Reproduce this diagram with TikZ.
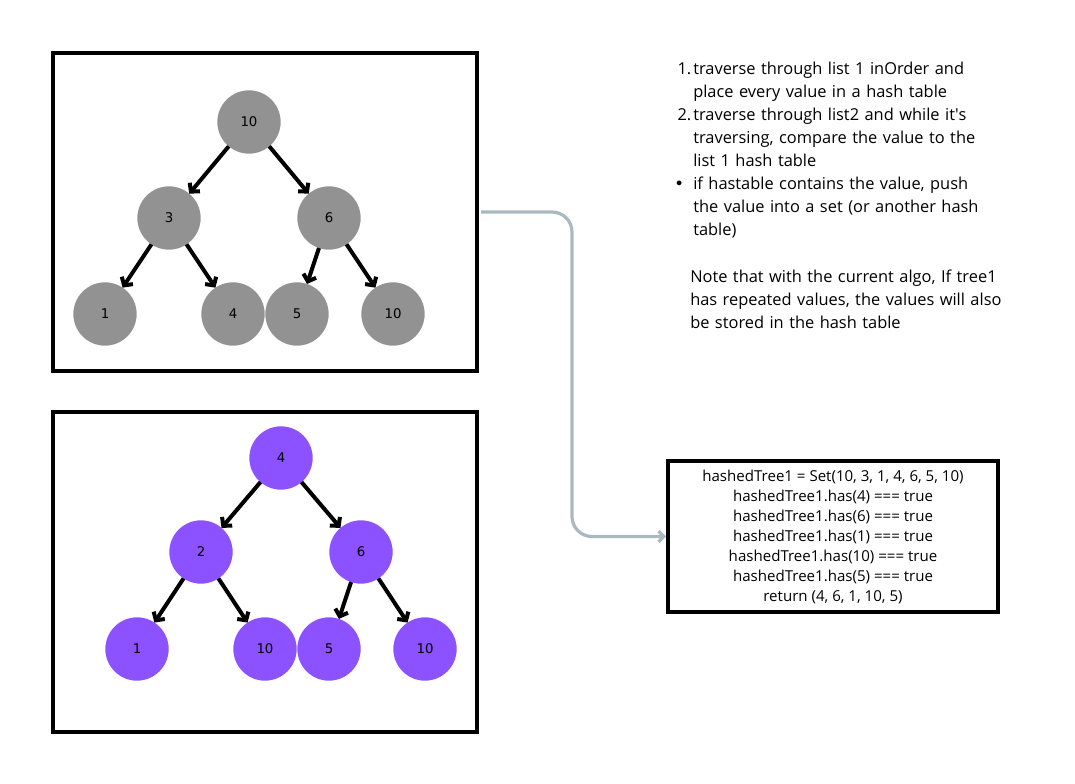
\documentclass[tikz,border=0pt]{standalone}
\usepackage{fontspec}
\setmainfont{Open Sans}
\newfontfamily\numfont{DejaVu Sans}
\usetikzlibrary{arrows.meta}
\definecolor{nodegray}{HTML}{929292}
\definecolor{nodepurple}{HTML}{8C52FF}
\definecolor{flowgray}{HTML}{AAB8C0}
\newcommand{\hang}{\\\hspace*{14.25pt}}
\begin{document}
\begin{tikzpicture}[x=0.75pt,y=-0.75pt]
\tikzset{
  treebox/.style={draw=black,line width=3pt,minimum width=318pt,inner sep=0pt,outer sep=0pt},
  codebox/.style={draw=black,line width=2.8pt,minimum width=247.5pt,minimum height=113.25pt,align=center,inner sep=0pt,
    font=\fontsize{11.3pt}{15pt}\selectfont},
  notes/.style={anchor=north west,inner sep=0pt,text width=260pt,align=left,font=\fontsize{12.3pt}{17.25pt}\selectfont},
  graynode/.style={circle,fill=nodegray,minimum size=47.5pt,inner sep=0pt,outer sep=0pt,font=\numfont\fontsize{10pt}{12pt}\selectfont},
  purplenode/.style={graynode,fill=nodepurple},
  link/.style={line width=3pt,-{Straight Barb[length=4.5pt,width=10pt]}},
  flow/.style={draw=flowgray,line width=2.4pt,rounded corners=15pt,-{Straight Barb[length=4pt,width=8pt]}}
}
\useasboundingbox (0,0) rectangle (1075,784);
\node[treebox,minimum height=238.5pt] (box1) at (265,212) {};
\node[treebox,minimum height=240pt] (box2) at (265,572) {};
\node[graynode] (a10) at (249,122) {10};
\node[graynode] (a3) at (169,218) {3};
\node[graynode] (a6) at (329,218) {6};
\node[graynode] (a1) at (105,314) {1};
\node[graynode] (a4) at (233,314) {4};
\node[graynode] (a5) at (297,314) {5};
\node[graynode] (a10b) at (393,314) {10};
\draw[link] (a10) -- (a3);
\draw[link] (a10) -- (a6);
\draw[link] (a3) -- (a1);
\draw[link] (a3) -- (a4);
\draw[link] (a6) -- (a5);
\draw[link] (a6) -- (a10b);
\node[purplenode] (b4) at (281,458) {4};
\node[purplenode] (b2) at (201,552) {2};
\node[purplenode] (b6) at (361,552) {6};
\node[purplenode] (b1) at (137,649) {1};
\node[purplenode] (b10) at (265,649) {10};
\node[purplenode] (b5) at (329,649) {5};
\node[purplenode] (b10b) at (425,649) {10};
\draw[link] (b4) -- (b2);
\draw[link] (b4) -- (b6);
\draw[link] (b2) -- (b1);
\draw[link] (b2) -- (b10);
\draw[link] (b6) -- (b5);
\draw[link] (b6) -- (b10b);
\node[notes] (steps) at (674,62) {%
\makebox[14.25pt][r]{1.\hspace{1.5pt}}traverse through list 1 inOrder and\hang place every value in a hash table\\
\makebox[14.25pt][r]{2.\hspace{1.5pt}}traverse through list2 and while it\textquotesingle s\hang traversing, compare the value to the\hang list 1 hash table\\
\makebox[14.25pt][l]{\numfont\textbullet}if hastable contains the value, push\hang the value into a set (or another hash\hang table)};
\node[notes] (remark) at (690,270) {Note that with the current algo, If tree1\\has repeated values, the values will also\\be stored in the hash table};
\node[codebox] (code) at (833,536.5) {hashedTree1 = Set(10, 3, 1, 4, 6, 5, 10)\\hashedTree1.has(4) === true\\hashedTree1.has(6) === true\\hashedTree1.has(1) === true\\hashedTree1.has(10) === true\\hashedTree1.has(5) === true\\return (4, 6, 1, 10, 5)};
\coordinate (drop) at (572,380);
\draw[flow] ([xshift=3pt]box1.east) -| (drop) |- (code.west);
\end{tikzpicture}
\end{document}
